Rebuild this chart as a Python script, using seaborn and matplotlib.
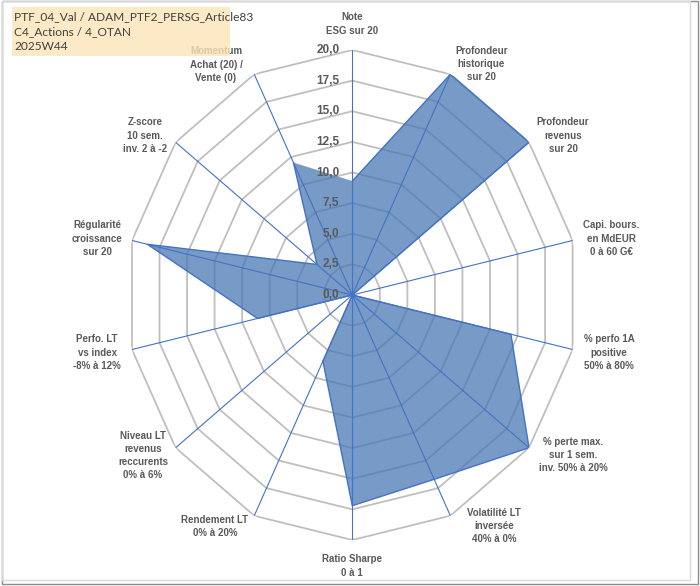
import numpy as np
import matplotlib
matplotlib.use('Agg')
import matplotlib.pyplot as plt
import matplotlib.transforms as mtransforms
from matplotlib.patches import Rectangle
import seaborn as sns

# axes of the radar, clockwise from the top
categories = ['Note\nESG sur 20', 'Profondeur\nhistorique\nsur 20', 'Profondeur\nrevenus\nsur 20',
              'Capi. bours.\nen MdEUR\n0 à 60 G€', '% perfo 1A\npositive\n50% à 80%',
              '% perte max.\nsur 1 sem.\ninv. 50% à 20%', 'Volatilité LT\ninversée\n40% à 0%',
              'Ratio Sharpe\n0 à 1', 'Rendement LT\n0% à 20%',
              'Niveau LT\nrevenus\nreccurents\n0% à 6%', 'Perfo. LT\nvs index\n-8% à 12%',
              'Régularité\ncroissance\nsur 20', 'Z-score\n10 sem.\ninv. 2 à -2',
              'Momentum\nAchat (20) /\nVente (0)']
scores = [9.3, 20.0, 20.0, 0.0, 14.4, 20.0, 16.7, 17.2, 6.0, 0.0, 8.6, 18.6, 4.0, 12.0]
r_ticks = [0.0, 2.5, 5.0, 7.5, 10.0, 12.5, 15.0, 17.5, 20.0]
r_tick_labels = ['0,0', '2,5', '5,0', '7,5', '10,0', '12,5', '15,0', '17,5', '20,0']
header_lines = ['PTF_04_Val / ADAM_PTF2_PERSG_Article83', 'C4_Actions / 4_OTAN', '2025W44']

# label centres in pixels (layout only)
label_px = [(352, 24), (481.5, 64), (563, 135.5), (611, 238.5), (609, 352.5),
            (573, 455), (494, 526), (352, 566), (215, 526.5), (143, 455.5),
            (97, 352.5), (97, 238.5), (145, 135.5), (216, 64.5)]

W, H = 700, 586
sns.set_theme(style='white')
plt.rcParams['font.family'] = ['Liberation Sans', 'DejaVu Sans']

fig = plt.figure(figsize=(W / 100, H / 100), dpi=100)
fig.patch.set_facecolor('white')

cx, cy, ax_r, ay_r = 352.3, 295, 226, 245
ax = fig.add_axes([(cx - ax_r) / W, (H - cy - ay_r) / H, 2 * ax_r / W, 2 * ay_r / H],
                  projection='polar')
ax.set_aspect('auto')
ax.set_theta_offset(np.pi / 2)
ax.set_theta_direction(-1)
ax.grid(False)
ax.spines['polar'].set_visible(False)
ax.set_xticks([])
ax.set_yticks([])
ax.patch.set_alpha(0)

n = len(categories)
theta = np.arange(n) * 2 * np.pi / n
theta_c = np.append(theta, theta[0])

grid_col = '#BFBFBF'
for lvl in r_ticks[1:]:
    ax.plot(theta_c, [lvl] * (n + 1), color=grid_col, lw=1.3, zorder=1)

for t in theta:
    ax.plot([t, t], [0, r_ticks[-1]], color='#4472C4', lw=0.8, zorder=3)

vals = np.append(scores, scores[0])
ax.fill(theta_c, vals, color='#4A78B4', alpha=0.75, lw=0, zorder=2)
sns.lineplot(x=theta_c, y=vals, ax=ax, sort=False, color='#4472C4', lw=1.0, zorder=4)
ax.set_ylim(0, r_ticks[-1])

off = mtransforms.offset_copy(ax.transData, fig=fig, x=-13, y=0, units='dots')
for r, lab in zip(r_ticks, r_tick_labels):
    ax.text(0, r, lab, transform=off, ha='right', va='center', fontsize=8.5,
            fontweight='bold', color='#595959', zorder=5)

for lab, (px, py) in zip(categories, label_px):
    fig.text(px / W, 1 - py / H, lab, ha='center', va='center', fontsize=7,
             fontweight='bold', color='#595959', linespacing=1.4, multialignment='center')

# header box
fig.patches.append(Rectangle((12 / W, 1 - 56 / H), 218 / W, 49 / H, transform=fig.transFigure,
                             facecolor='#FCE4B8', alpha=0.8, edgecolor='none', zorder=6))
for i, line in enumerate(header_lines):
    fig.text(14 / W, 1 - (17 + 15 * i) / H, line, ha='left', va='center', fontsize=8.6,
             family=['Lato', 'DejaVu Sans'], color='#404040', zorder=7)

# chart frame
fig.patches.append(Rectangle((2 / W, 1 - 584 / H), 696 / W, 583 / H, transform=fig.transFigure,
                             facecolor='none', edgecolor='#8C8C8C', lw=1))
fig.patches.append(Rectangle((2 / W, 1 - 580 / H), 688 / W, 579 / H, transform=fig.transFigure,
                             facecolor='none', edgecolor='#D9D9D9', lw=1))

fig.savefig('out.png', dpi=100)
